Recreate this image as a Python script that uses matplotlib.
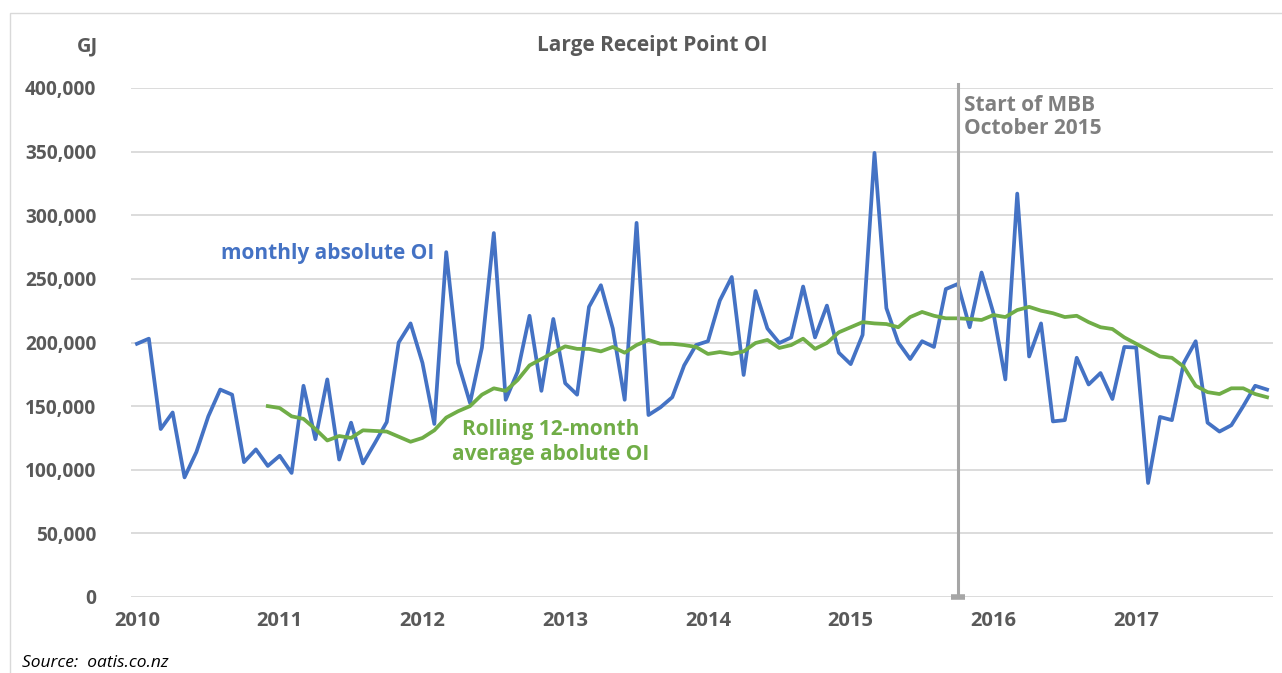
import matplotlib
matplotlib.use("Agg")
import matplotlib.pyplot as plt
from matplotlib.patches import Rectangle
from matplotlib.ticker import FuncFormatter

# ---- data (monthly, Jan 2010 .. Dec 2017) ----
years = [2010, 2011, 2012, 2013, 2014, 2015, 2016, 2017]
monthly_oi = [
    199000, 203000, 132000, 145000, 94000, 114000, 142000, 163000, 159000, 106000, 116000, 103000,
    111000, 97500, 166000, 124000, 171000, 108000, 137000, 105000, 121000, 137500, 200000, 215000,
    184000, 136000, 271000, 184000, 152500, 196000, 286000, 155000, 177000, 221000, 162000, 218500,
    168000, 159000, 228000, 245000, 211000, 155000, 294000, 143000, 149000, 157000, 182000, 198000,
    201000, 233000, 251500, 174500, 240500, 211000, 199600, 204000, 244000, 204000, 229000, 192000,
    183000, 206000, 349000, 227000, 200000, 187000, 201000, 196500, 242000, 246000, 212000, 255000,
    223000, 171000, 317000, 189000, 215000, 138000, 139000, 188000, 167000, 176000, 155600, 196500,
    196000, 89600, 141500, 139000, 184000, 201000, 137000, 130000, 135000, 150000, 166000, 163000,
]
rolling_start = 11  # first month with a 12-month average (Dec 2010)
rolling_avg = [
    150000, 148500, 142000, 140000, 132000, 123000, 126500, 125000, 131000, 130500, 130000, 126000,
    122000, 125000, 131000, 141000, 146000, 150000, 159000, 164000, 162000, 170500, 182000, 187000,
    192000, 197000, 195000, 195000, 193000, 196500, 192000, 198000, 202000, 199000, 199000, 198000,
    196500, 191000, 192500, 191000, 193000, 199600, 202000, 195700, 198000, 203000, 195000, 199600,
    208000, 212000, 216000, 215000, 214500, 212000, 220000, 224000, 221000, 219000, 219000, 218500,
    217700, 221600, 220000, 225500, 228000, 225000, 223000, 220000, 221000, 216000, 212000, 210600,
    204000, 199000, 194000, 189000, 188000, 181000, 166000, 161000, 159500, 164000, 164000, 159500,
    157000,
]
mbb_start_month = 69  # October 2015
yticks = [0, 50000, 100000, 150000, 200000, 250000, 300000, 350000, 400000]

# ---- style ----
BLUE = "#4472C4"
GREEN = "#70AD47"
TXT = "#595959"
GRID = "#D9D9D9"
FONT = ["Open Sans", "DejaVu Sans"]
plt.rcParams["font.family"] = FONT

fig = plt.figure(figsize=(12.82, 6.73), dpi=100)
ax = fig.add_axes([131 / 1282, 1 - 597 / 673, (1273 - 131) / 1282, (597 - 88) / 673])

# chart border (Excel chart area)
fig.patches.append(Rectangle((10 / 1282, -0.1), 1.2, (673 - 13) / 673 + 0.1,
                             transform=fig.transFigure, fill=False,
                             edgecolor=GRID, linewidth=1.0))

x_months = list(range(len(monthly_oi)))
x_roll = list(range(rolling_start, rolling_start + len(rolling_avg)))

ax.plot(x_months, monthly_oi, color=BLUE, linewidth=2.7, zorder=3)
ax.plot(x_roll, rolling_avg, color=GREEN, linewidth=2.7, zorder=4)

# MBB start line
ax.plot([mbb_start_month, mbb_start_month], [0, 403000], color="#A6A6A6",
        linewidth=2.2, clip_on=False, zorder=5)
ax.plot([mbb_start_month], [0], marker="_", markersize=10, markeredgewidth=4,
        color="#A6A6A6", clip_on=False, zorder=5)

ax.set_xlim(-0.5, 95.5)
ax.set_ylim(0, 400000)
ax.set_yticks(yticks)
ax.yaxis.set_major_formatter(FuncFormatter(lambda v, p: f"{int(v):,}"))
ax.set_xticks([12 * i for i in range(len(years))])
ax.set_xticklabels([str(y) for y in years])
ax.grid(axis="y", color=GRID, linewidth=1.3)
ax.set_axisbelow(True)
for s in ax.spines.values():
    s.set_visible(False)
ax.tick_params(axis="x", length=0, labelsize=14.5, labelcolor=TXT, pad=10)
ax.tick_params(axis="y", length=0, labelsize=13.8, labelcolor=TXT, pad=25)
for lab in ax.get_xticklabels() + ax.get_yticklabels():
    lab.set_fontweight("bold")

# titles / annotations
fig.text(652 / 1282, 1 - 45 / 673, "Large Receipt Point OI", ha="center", va="center",
         fontsize=15, fontweight="bold", color=TXT)
fig.text(88 / 1282, 1 - 46 / 673, "GJ", ha="center", va="center",
         fontsize=14.5, fontweight="bold", color=TXT)
fig.text(221 / 1282, 1 - 253 / 673, "monthly absolute OI", ha="left", va="center",
         fontsize=15, fontweight="bold", color=BLUE)
fig.text(551 / 1282, 1 - 442 / 673, "Rolling 12-month\naverage abolute OI", ha="center",
         va="center", fontsize=15, fontweight="bold", color=GREEN, linespacing=1.2)
fig.text(964 / 1282, 1 - 117 / 673, "Start of MBB\nOctober 2015", ha="left", va="center",
         fontsize=15, fontweight="bold", color="#7F7F7F", linespacing=1.15)
fig.text(22 / 1282, 1 - 663 / 673, "Source:  oatis.co.nz", ha="left", va="center",
         fontsize=12.5, fontstyle="italic", color="#000000")

fig.savefig("out.png", dpi=100)
